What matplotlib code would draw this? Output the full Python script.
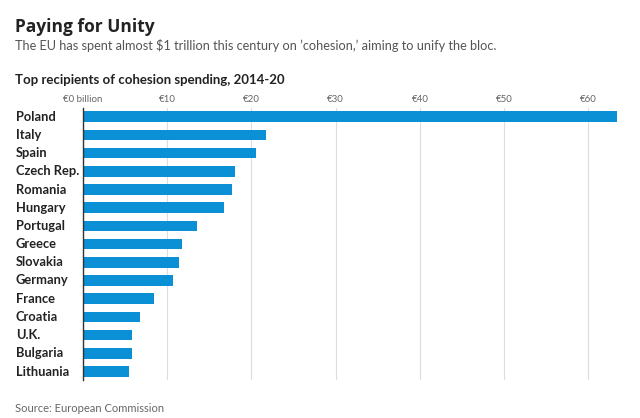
import matplotlib.pyplot as plt

countries = ['Poland', 'Italy', 'Spain', 'Czech Rep.', 'Romania', 'Hungary', 'Portugal',
             'Greece', 'Slovakia', 'Germany', 'France', 'Croatia', 'U.K.', 'Bulgaria', 'Lithuania']
spending = [63.4, 21.7, 20.5, 18.0, 17.7, 16.7, 13.5, 11.8, 11.4, 10.7, 8.4, 6.8, 5.8, 5.8, 5.5]
ticks = [0, 10, 20, 30, 40, 50, 60]
tick_labels = ['€0 billion', '€10', '€20', '€30', '€40', '€50', '€60']

plt.rcParams['font.family'] = ['Lato', 'DejaVu Sans']

fig = plt.figure(figsize=(6.4, 4.18), dpi=100)
ax = fig.add_axes([83 / 640, 1 - 380 / 418, (622 - 83) / 640, (380 - 108) / 418])

pos = list(range(len(countries)))
ax.barh(pos, spending, height=0.58, color='#0b8fd5', zorder=3)
ax.set_ylim(14.47, -0.48)
ax.set_xlim(0, 64)

ax.set_xticks(ticks)
ax.set_xticklabels(tick_labels, color='#666666', fontsize=7)
ax.xaxis.tick_top()
ax.tick_params(axis='x', length=0, pad=3)
ax.grid(axis='x', color='#dddddd', linewidth=0.8, zorder=0)

ax.set_yticks(pos)
ax.set_yticklabels([])
ax.tick_params(axis='y', length=0)
for i, name in enumerate(countries):
    ax.text(16 / 640, 1 - (116.7 + i * 18.2) / 418, name, transform=fig.transFigure,
            fontsize=9.3, fontweight='bold', color='#222222', va='center', ha='left')

for s in ['top', 'right', 'bottom']:
    ax.spines[s].set_visible(False)
ax.spines['left'].set_color('#333333')
ax.spines['left'].set_linewidth(1)
ax.spines['left'].set_zorder(4)

fig.text(15 / 640, 1 - 27 / 418, 'Paying for Unity', fontsize=12.5, fontweight='bold',
         color='#222222', va='center', family=['Open Sans', 'DejaVu Sans'])
fig.text(15 / 640, 1 - 46 / 418,
         "The EU has spent almost $1 trillion this century on \u2019cohesion,\u2019 aiming to unify the bloc.",
         fontsize=9.2, color='#555555', va='center')
fig.text(15 / 640, 1 - 80 / 418, 'Top recipients of cohesion spending, 2014-20', fontsize=9.5,
         fontweight='bold', color='#222222', va='center')
fig.text(15 / 640, 1 - 408 / 418, 'Source: European Commission', fontsize=8,
         color='#666666', va='center')

fig.savefig('out.png', dpi=100)
